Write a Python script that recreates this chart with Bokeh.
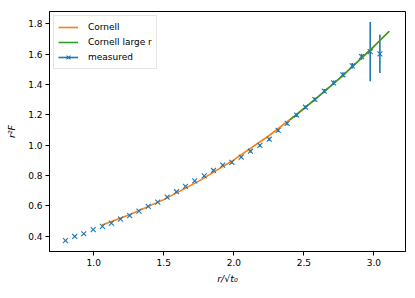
from bokeh.plotting import figure
from bokeh.models import Range1d, FixedTicker, Legend, LegendItem
from bokeh.embed import file_html
from bokeh.resources import INLINE

# measured points
meas_x = [0.798, 0.864, 0.929, 0.996, 1.062, 1.126, 1.191, 1.257, 1.323, 1.389,
          1.457, 1.524, 1.591, 1.655, 1.721, 1.789, 1.855, 1.921, 1.986, 2.053,
          2.119, 2.186, 2.253, 2.317, 2.381, 2.449, 2.512, 2.579, 2.646, 2.712,
          2.779, 2.846, 2.912, 2.974, 3.043]
meas_y = [0.371, 0.398, 0.416, 0.443, 0.465, 0.486, 0.512, 0.536, 0.565, 0.596,
          0.624, 0.657, 0.693, 0.728, 0.765, 0.798, 0.833, 0.868, 0.886, 0.921,
          0.960, 0.998, 1.039, 1.097, 1.143, 1.198, 1.250, 1.301, 1.356, 1.411,
          1.464, 1.523, 1.583, 1.617, 1.602]
meas_err = [0.002, 0.002, 0.002, 0.002, 0.002, 0.003, 0.003, 0.003, 0.003, 0.004,
            0.004, 0.004, 0.005, 0.005, 0.006, 0.006, 0.007, 0.007, 0.008, 0.008,
            0.009, 0.009, 0.010, 0.010, 0.011, 0.012, 0.012, 0.013, 0.014, 0.015,
            0.016, 0.018, 0.020, 0.195, 0.127]

# Cornell fit curve
cornell_x = [1.06, 1.25, 1.5, 1.75, 2.0, 2.25, 2.5, 2.75, 3.0, 3.11]
cornell_y = [0.473, 0.539, 0.641, 0.763, 0.903, 1.062, 1.239, 1.436, 1.650, 1.751]

# Cornell large r curve
large_x = [2.40, 2.60, 2.80, 3.00, 3.11]
large_y = [1.166, 1.316, 1.477, 1.650, 1.751]

x_ticks = [1.0, 1.5, 2.0, 2.5, 3.0]
x_tick_labels = ["1.0", "1.5", "2.0", "2.5", "3.0"]
y_ticks = [0.4, 0.6, 0.8, 1.0, 1.2, 1.4, 1.6, 1.8]
y_tick_labels = ["0.4", "0.6", "0.8", "1.0", "1.2", "1.4", "1.6", "1.8"]

BLUE = "#1f77b4"
ORANGE = "#ff7f0e"
GREEN = "#2ca02c"
FONT = "DejaVu Sans"

p = figure(width=413, height=296, output_backend="svg", toolbar_location=None,
           x_range=Range1d(0.684, 3.226), y_range=Range1d(0.299, 1.881),
           min_border_left=49, min_border_right=8, min_border_top=11,
           min_border_bottom=45)
p.grid.visible = False
p.outline_line_color = "black"
p.outline_line_width = 1
p.background_fill_color = "white"
p.border_fill_color = "white"

for ax in (p.xaxis[0], p.yaxis[0]):
    ax.axis_line_color = "black"
    ax.major_tick_in = 0
    ax.major_tick_out = 4
    ax.minor_tick_line_color = None
    ax.major_label_text_font = FONT
    ax.major_label_text_font_size = "9px"
    ax.major_label_text_color = "black"
    ax.axis_label_text_font = FONT
    ax.axis_label_text_font_size = "9.5px"
    ax.axis_label_text_font_style = "italic"
    ax.axis_label_text_color = "black"
    ax.major_label_standoff = 3

p.xaxis.ticker = FixedTicker(ticks=x_ticks)
p.xaxis.major_label_overrides = dict(zip(x_ticks, x_tick_labels))
p.yaxis.ticker = FixedTicker(ticks=y_ticks)
p.yaxis.major_label_overrides = dict(zip(y_ticks, y_tick_labels))
p.xaxis.axis_label = "r/\u221at\u2080"
p.yaxis.axis_label = "r\u00b2F"
p.xaxis.axis_label_standoff = 4
p.yaxis.axis_label_standoff = 8

lo = [y - e for y, e in zip(meas_y, meas_err)]
hi = [y + e for y, e in zip(meas_y, meas_err)]
r_err = p.segment(x0=meas_x, y0=lo, x1=meas_x, y1=hi, line_color=BLUE, line_width=1.6)
r_c = p.line(cornell_x, cornell_y, line_color=ORANGE, line_width=1.6)
r_l = p.line(large_x, large_y, line_color=GREEN, line_width=1.6)
r_m = p.scatter(meas_x, meas_y, marker="x", size=7, line_color=BLUE, line_width=1.1)

legend = Legend(items=[
    LegendItem(label="Cornell", renderers=[r_c]),
    LegendItem(label="Cornell large r", renderers=[r_l]),
    LegendItem(label="measured", renderers=[r_err, r_m]),
], location="top_left")
legend.margin = 4
legend.padding = 4
legend.spacing = 1
legend.label_height = 14
legend.glyph_height = 14
legend.glyph_width = 20
legend.label_standoff = 10
legend.label_text_font = FONT
legend.label_text_font_size = "9px"
legend.label_text_color = "black"
legend.border_line_color = "#cccccc"
legend.border_line_width = 1
legend.background_fill_alpha = 0.8
p.add_layout(legend, "center")

open("out.html", "w").write(file_html(p, INLINE))
